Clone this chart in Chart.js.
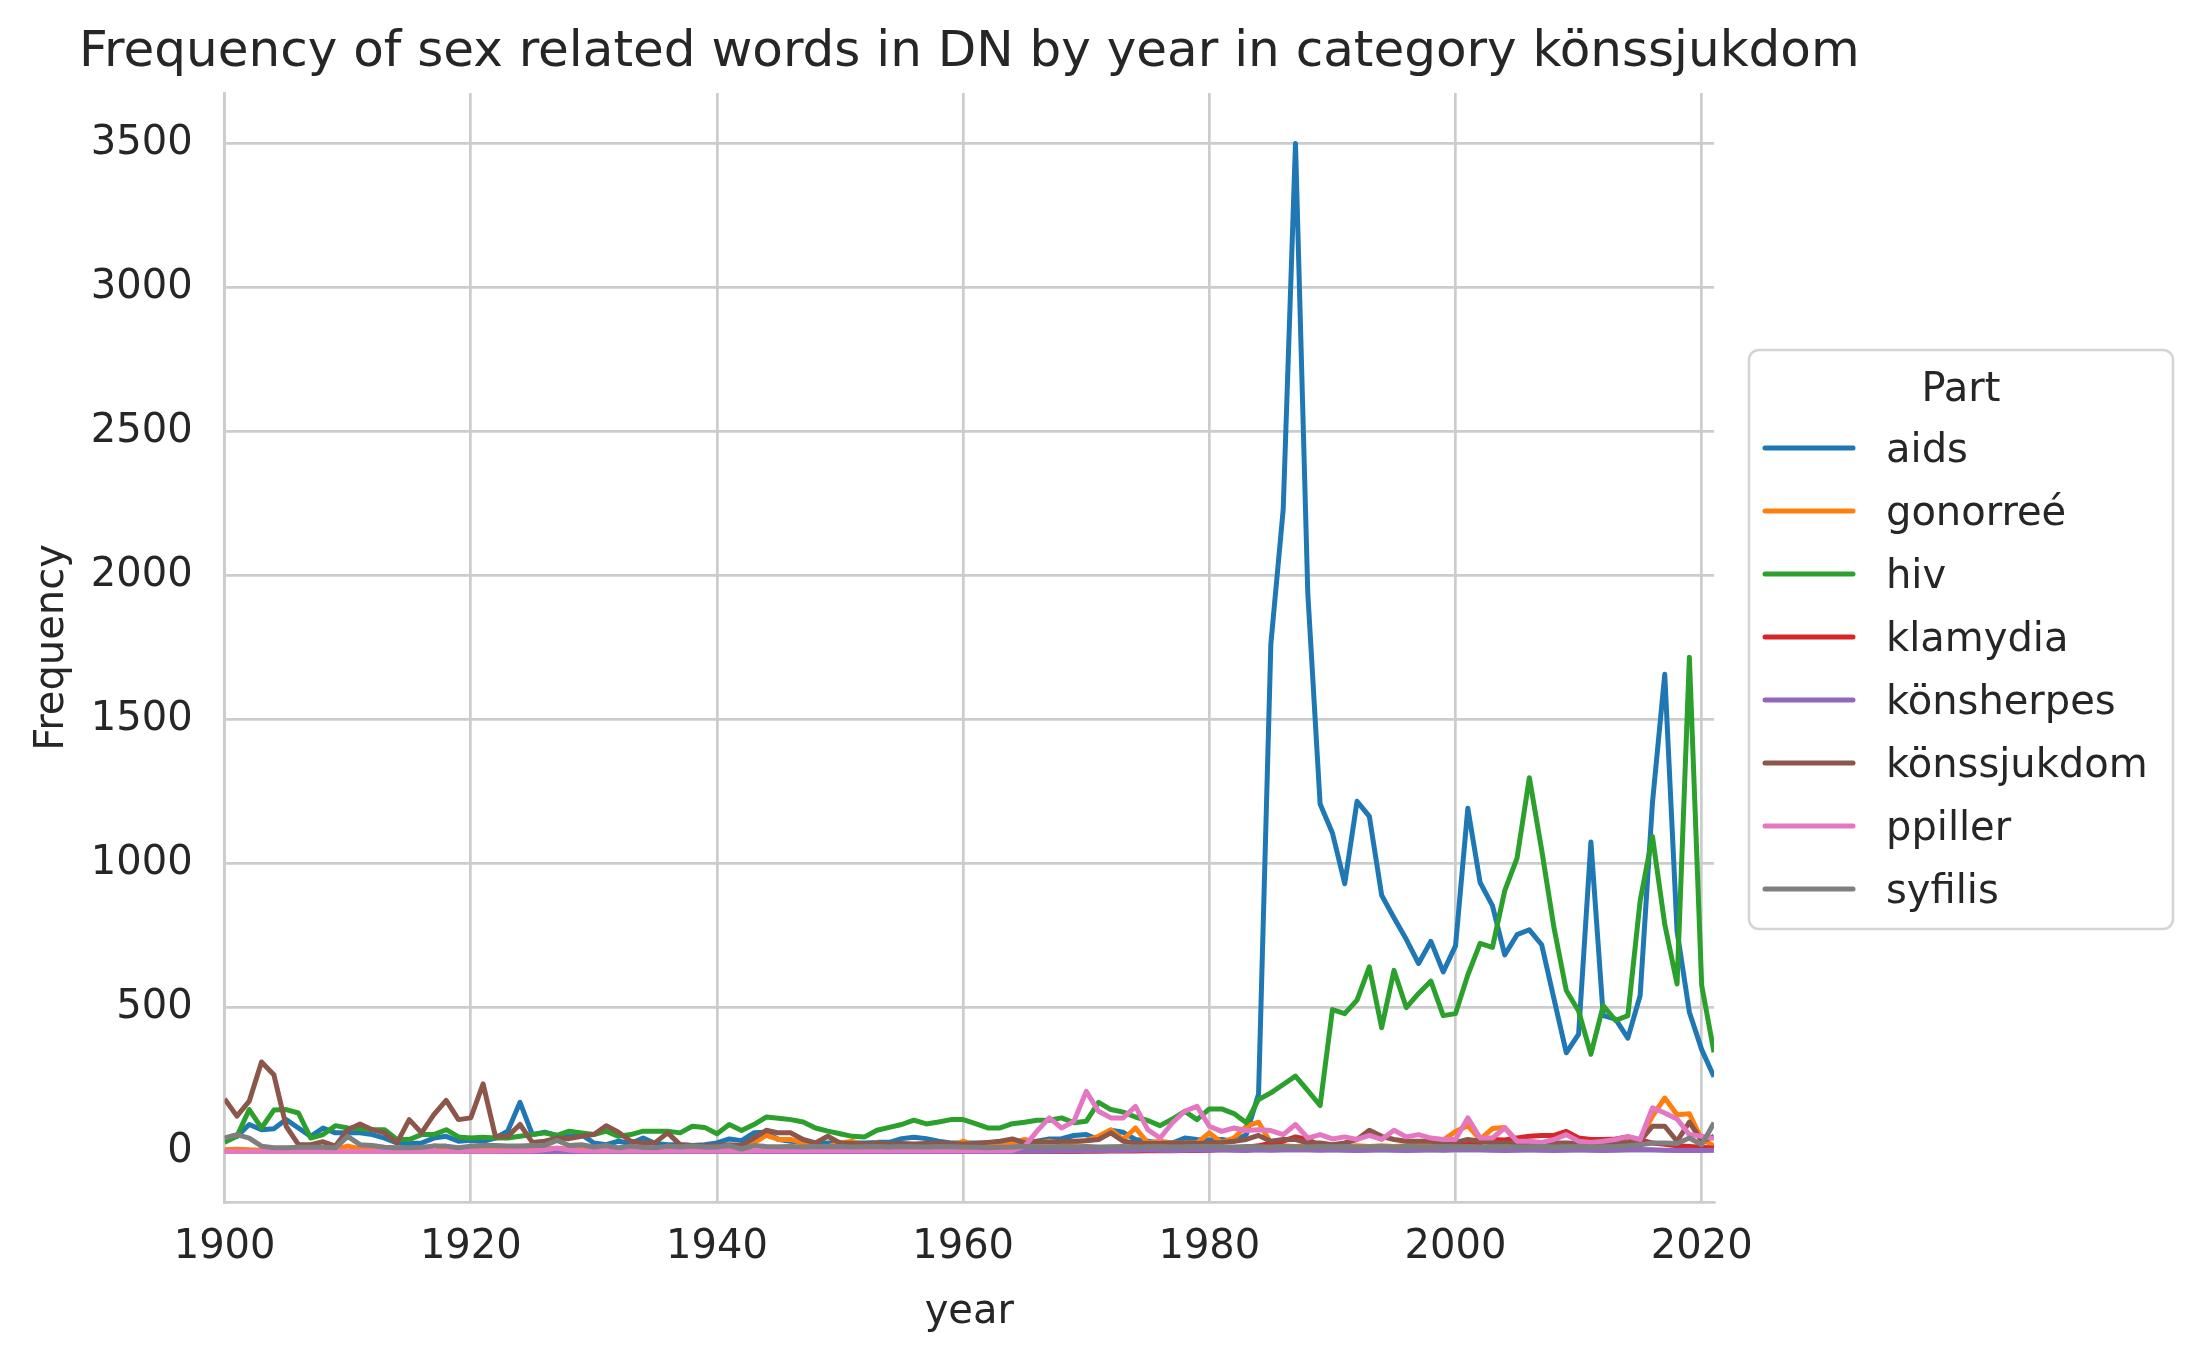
<!DOCTYPE html>
<html lang="en">
<head>
    <meta charset="UTF-8">
    <title>Frequency of sex related words in DN</title>
    <script src="https://cdn.jsdelivr.net/npm/chart.js@4"></script>
    <style>
        html, body { margin: 0; padding: 0; background: #ffffff; }
        #freq-chart { display: block; }
    </style>
</head>
<body>
    <canvas id="freq-chart" width="2201" height="1361"></canvas>

    <script>
        // years 1900-2021
        const years = [
            1900, 1901, 1902, 1903, 1904, 1905, 1906, 1907, 1908, 1909,
            1910, 1911, 1912, 1913, 1914, 1915, 1916, 1917, 1918, 1919,
            1920, 1921, 1922, 1923, 1924, 1925, 1926, 1927, 1928, 1929,
            1930, 1931, 1932, 1933, 1934, 1935, 1936, 1937, 1938, 1939,
            1940, 1941, 1942, 1943, 1944, 1945, 1946, 1947, 1948, 1949,
            1950, 1951, 1952, 1953, 1954, 1955, 1956, 1957, 1958, 1959,
            1960, 1961, 1962, 1963, 1964, 1965, 1966, 1967, 1968, 1969,
            1970, 1971, 1972, 1973, 1974, 1975, 1976, 1977, 1978, 1979,
            1980, 1981, 1982, 1983, 1984, 1985, 1986, 1987, 1988, 1989,
            1990, 1991, 1992, 1993, 1994, 1995, 1996, 1997, 1998, 1999,
            2000, 2001, 2002, 2003, 2004, 2005, 2006, 2007, 2008, 2009,
            2010, 2011, 2012, 2013, 2014, 2015, 2016, 2017, 2018, 2019,
            2020, 2021
        ];

        const aids = [
            44, 53, 94, 76, 79, 111, 82, 53, 82, 65,
            65, 65, 59, 47, 30, 28, 30, 47, 53, 36,
            39, 36, 47, 71, 171, 59, 67, 56, 53, 59,
            30, 24, 36, 28, 47, 28, 24, 24, 21, 24,
            30, 44, 38, 65, 67, 42, 36, 32, 30, 30,
            32, 30, 30, 32, 32, 45, 50, 45, 36, 30,
            30, 30, 30, 30, 32, 32, 36, 44, 45, 56,
            59, 42, 74, 67, 42, 36, 30, 30, 47, 42,
            40, 42, 36, 59, 200, 1763, 2228, 3500, 1939, 1207,
            1106, 930, 1216, 1164, 890, 812, 737, 653, 730, 624,
            714, 1192, 934, 854, 683, 753, 770, 718, 530, 343,
            408, 1075, 472, 460, 394, 542, 1211, 1657, 765, 484,
            354, 260
        ];
        const gonorree = [
            6, 8, 6, 5, 7, 6, 8, 6, 7, 9,
            19, 10, 8, 7, 6, 8, 9, 20, 12, 8,
            7, 9, 8, 10, 9, 8, 10, 12, 9, 10,
            11, 9, 10, 12, 10, 9, 11, 10, 12, 10,
            10, 12, 15, 30, 56, 42, 42, 30, 16, 16,
            30, 36, 20, 30, 20, 20, 18, 20, 18, 20,
            36, 22, 30, 24, 30, 42, 30, 36, 30, 32,
            39, 53, 76, 42, 82, 30, 36, 30, 30, 30,
            65, 32, 47, 88, 102, 30, 20, 18, 20, 18,
            15, 18, 20, 18, 20, 18, 20, 22, 24, 40,
            70, 90, 42, 80, 84, 36, 22, 20, 20, 22,
            24, 26, 30, 42, 32, 42, 123, 186, 128, 131,
            42, 20
        ];
        const hiv = [
            32, 53, 146, 82, 144, 146, 134, 47, 59, 90,
            82, 79, 76, 76, 42, 42, 59, 59, 76, 51,
            47, 50, 47, 47, 53, 59, 65, 56, 71, 65,
            59, 71, 53, 59, 71, 71, 71, 65, 88, 84,
            62, 94, 73, 94, 120, 116, 111, 103, 82, 71,
            62, 53, 51, 74, 84, 94, 109, 96, 103, 111,
            111, 97, 82, 82, 97, 102, 109, 109, 117, 100,
            105, 171, 146, 137, 120, 108, 90, 113, 140, 111,
            148, 148, 132, 100, 181, 204, 233, 262, 212, 160,
            493, 479, 526, 641, 430, 629, 500, 549, 592, 472,
            479, 613, 723, 709, 906, 1019, 1298, 1047, 777, 559,
            488, 338, 507, 455, 472, 871, 1094, 789, 582, 1716,
            577, 345
        ];
        const klamydia = [
            0, 0, 0, 0, 0, 0, 0, 0, 0, 0,
            0, 0, 0, 0, 0, 0, 0, 0, 0, 0,
            0, 0, 0, 0, 0, 0, 0, 0, 0, 0,
            0, 0, 0, 0, 0, 0, 0, 0, 0, 0,
            0, 0, 0, 0, 0, 0, 0, 0, 0, 0,
            0, 0, 0, 0, 0, 0, 0, 0, 0, 0,
            0, 0, 0, 0, 0, 0, 0, 0, 0, 0,
            1, 1, 2, 2, 2, 3, 3, 3, 4, 4,
            5, 8, 10, 15, 20, 30, 36, 51, 42, 20,
            15, 12, 12, 14, 12, 13, 14, 13, 15, 15,
            20, 25, 30, 42, 40, 47, 53, 56, 56, 70,
            47, 42, 42, 44, 51, 40, 30, 25, 20, 18,
            15, 12
        ];
        const konsherpes = [
            0, 0, 0, 0, 0, 0, 0, 0, 0, 0,
            0, 0, 0, 0, 0, 0, 0, 0, 0, 0,
            0, 0, 0, 0, 0, 0, 0, 0, 0, 0,
            0, 0, 0, 0, 0, 0, 0, 0, 0, 0,
            0, 0, 0, 0, 0, 0, 0, 0, 0, 0,
            0, 0, 0, 0, 0, 0, 0, 0, 0, 0,
            0, 0, 0, 0, 0, 1, 1, 1, 2, 2,
            3, 4, 5, 4, 5, 6, 5, 4, 5, 6,
            5, 6, 5, 4, 6, 5, 6, 7, 6, 5,
            6, 5, 4, 5, 6, 5, 4, 5, 6, 5,
            6, 7, 6, 5, 4, 5, 6, 5, 4, 5,
            6, 5, 4, 5, 6, 7, 6, 5, 4, 5,
            4, 5
        ];
        const konssjukdom = [
            183, 123, 175, 311, 267, 88, 24, 24, 34, 19,
            76, 96, 76, 65, 30, 111, 65, 128, 178, 111,
            117, 235, 53, 53, 94, 32, 36, 47, 45, 53,
            59, 90, 67, 36, 30, 32, 65, 24, 21, 19,
            21, 24, 21, 47, 74, 65, 65, 42, 30, 53,
            30, 28, 26, 28, 26, 28, 26, 28, 30, 28,
            26, 28, 32, 36, 44, 30, 36, 32, 36, 36,
            38, 42, 65, 36, 30, 28, 28, 30, 30, 28,
            30, 32, 36, 42, 56, 36, 42, 42, 30, 30,
            24, 30, 42, 74, 53, 42, 36, 36, 36, 30,
            32, 42, 36, 30, 30, 28, 26, 28, 30, 30,
            28, 26, 28, 30, 32, 36, 88, 88, 36, 102,
            36, 53
        ];
        const ppiller = [
            0, 0, 0, 0, 0, 0, 0, 0, 0, 0,
            0, 0, 0, 0, 0, 0, 0, 0, 0, 0,
            1, 2, 1, 2, 3, 2, 6, 12, 5, 3,
            2, 3, 2, 3, 2, 3, 2, 3, 2, 3,
            2, 3, 2, 3, 4, 3, 4, 3, 4, 3,
            4, 3, 4, 3, 4, 3, 4, 3, 4, 3,
            4, 3, 4, 3, 4, 18, 71, 117, 82, 105,
            209, 140, 117, 117, 157, 76, 47, 100, 140, 157,
            88, 70, 82, 73, 76, 73, 59, 94, 47, 59,
            44, 51, 42, 56, 42, 74, 51, 59, 47, 42,
            42, 117, 47, 47, 82, 36, 36, 32, 42, 59,
            36, 32, 36, 42, 53, 42, 152, 134, 113, 59,
            53, 45
        ];
        const syfilis = [
            47, 59, 47, 19, 13, 13, 15, 15, 15, 13,
            53, 24, 21, 15, 13, 13, 15, 19, 19, 13,
            19, 21, 21, 19, 19, 21, 21, 39, 21, 24,
            16, 21, 13, 19, 15, 13, 19, 16, 19, 16,
            16, 21, 9, 21, 18, 17, 18, 16, 18, 17,
            18, 16, 17, 18, 16, 18, 17, 16, 18, 17,
            16, 15, 13, 15, 16, 18, 17, 16, 18, 17,
            18, 16, 17, 18, 16, 17, 18, 16, 17, 18,
            18, 17, 16, 18, 17, 16, 18, 17, 16, 18,
            17, 18, 16, 17, 18, 16, 18, 17, 16, 18,
            17, 18, 16, 17, 18, 16, 17, 18, 16, 17,
            18, 16, 17, 18, 20, 24, 30, 30, 28, 47,
            24, 100
        ];

        const seriesNames = ['aids', 'gonorreé', 'hiv', 'klamydia', 'könsherpes', 'könssjukdom', 'ppiller', 'syfilis'];
        const seriesValues = [aids, gonorree, hiv, klamydia, konsherpes, konssjukdom, ppiller, syfilis];
        const seriesColors = ['#1f77b4', '#ff7f0e', '#2ca02c', '#d62728', '#9467bd', '#8c564b', '#e377c2', '#7f7f7f'];

        const xTicks = [1900, 1920, 1940, 1960, 1980, 2000, 2020];
        const yTicks = [0, 500, 1000, 1500, 2000, 2500, 3000, 3500];

        const chartTitle = 'Frequency of sex related words in DN by year in category könssjukdom';
        const textColor = '#262626';
        const gridColor = '#cccccc';

        Chart.defaults.font.family = "'DejaVu Sans', sans-serif";
        Chart.defaults.color = textColor;

        // title centred over the axes but allowed to run wider than them (like matplotlib)
        const wideTitle = {
            id: 'wideTitle',
            afterDraw(chart) {
                const c = chart.ctx;
                const area = chart.chartArea;
                c.save();
                c.fillStyle = textColor;
                c.font = "50px 'DejaVu Sans'";
                c.textAlign = 'center';
                c.textBaseline = 'middle';
                c.fillText(chartTitle, (area.left + area.right) / 2, 53);
                c.restore();
            }
        };

        // legend drawn like the seaborn one: framed box with a title, outside the axes
        const boxLegend = {
            id: 'boxLegend',
            afterDraw(chart) {
                const c = chart.ctx;
                const area = chart.chartArea;
                const left = area.right + 35;
                const top = 350;
                const w = 424, h = 579;
                c.save();
                c.beginPath();
                c.roundRect(left, top, w, h, 10);
                c.fillStyle = 'rgba(255,255,255,0.8)';
                c.fill();
                c.lineWidth = 2.5;
                c.strokeStyle = '#d4d4d4';
                c.stroke();

                c.fillStyle = textColor;
                c.font = "40px 'DejaVu Sans'";
                c.textAlign = 'center';
                c.textBaseline = 'alphabetic';
                c.fillText('Part', left + w / 2, top + 51);

                c.textAlign = 'left';
                chart.data.datasets.forEach((ds, i) => {
                    const ly = top + 98 + i * 63;
                    c.beginPath();
                    c.moveTo(left + 16, ly);
                    c.lineTo(left + 104, ly);
                    c.lineWidth = 5;
                    c.lineCap = 'round';
                    c.strokeStyle = ds.borderColor;
                    c.stroke();
                    c.fillStyle = textColor;
                    c.fillText(ds.label, left + 137, ly + 14);
                });
                c.restore();
            }
        };

        const datasets = seriesNames.map((name, i) => ({
            label: name,
            data: years.map((yr, j) => ({ x: yr, y: seriesValues[i][j] })),
            borderColor: seriesColors[i],
            backgroundColor: seriesColors[i],
            borderWidth: 5,
            borderJoinStyle: 'round',
            pointRadius: 0,
            tension: 0,
            fill: false,
            order: seriesNames.length - i
        }));

        const ctx = document.getElementById('freq-chart').getContext('2d');
        new Chart(ctx, {
            type: 'line',
            data: { datasets: datasets },
            options: {
                responsive: false,
                animation: false,
                devicePixelRatio: 1,
                layout: { padding: { left: 0, top: 93, right: 487, bottom: 0 } },
                plugins: {
                    legend: { display: false },
                    tooltip: { enabled: false },
                    title: { display: false }
                },
                scales: {
                    x: {
                        type: 'linear',
                        min: 1900,
                        max: 2021,
                        afterBuildTicks: s => { s.ticks = xTicks.map(v => ({ value: v })); },
                        afterFit: s => { s.height = 159; },
                        ticks: {
                            font: { size: 40 },
                            color: textColor,
                            padding: 22,
                            maxRotation: 0,
                            callback: v => String(v)
                        },
                        grid: { color: gridColor, lineWidth: 2.7, drawTicks: false },
                        border: { display: true, color: gridColor, width: 2.7 },
                        title: {
                            display: true,
                            text: 'year',
                            font: { size: 40 },
                            color: textColor,
                            padding: { top: 0, bottom: 24 }
                        }
                    },
                    y: {
                        type: 'linear',
                        min: -175,
                        max: 3675,
                        afterBuildTicks: s => { s.ticks = yTicks.map(v => ({ value: v })); },
                        afterFit: s => { s.width = 224.6; },
                        ticks: {
                            font: { size: 40 },
                            color: textColor,
                            padding: 32,
                            callback: v => String(v)
                        },
                        grid: { color: gridColor, lineWidth: 2.7, drawTicks: false },
                        border: { display: true, color: gridColor, width: 2.7 },
                        title: {
                            display: true,
                            text: 'Frequency',
                            font: { size: 40 },
                            color: textColor,
                            padding: { top: 29, bottom: 0 }
                        }
                    }
                }
            },
            plugins: [wideTitle, boxLegend]
        });
    </script>
</body>
</html>
